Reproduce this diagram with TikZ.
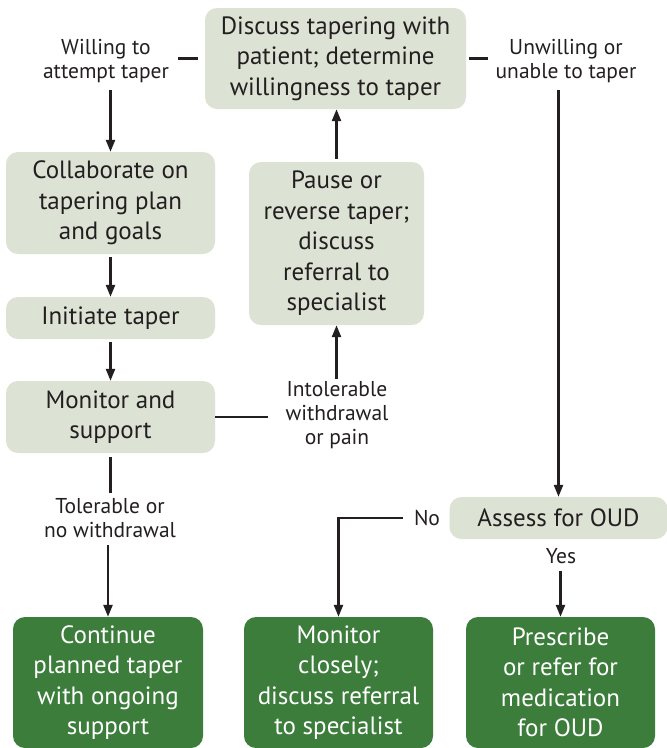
\documentclass[tikz,border=0pt]{standalone}
\usepackage{fontspec}
\setmainfont{PT Sans}
\usetikzlibrary{arrows.meta}
\definecolor{lightg}{RGB}{220,226,212}
\definecolor{darkg}{RGB}{60,125,60}
\definecolor{ink}{RGB}{35,31,32}
\begin{document}
\begin{tikzpicture}[x=1pt,y=-1pt,
  boxtxt/.style={font=\fontsize{25}{30.5}\selectfont, align=center, inner sep=0pt, rounded corners=12pt},
  lbox/.style={boxtxt, fill=lightg, text=ink},
  dbox/.style={boxtxt, fill=darkg, text=white},
  lbl/.style={font=\fontsize{21.5}{24}\selectfont, align=center, inner sep=2pt, text=ink},
  conn/.style={draw=ink, line width=2.4pt},
  arr/.style={conn, -{Triangle[length=12pt,width=9pt]}}]
\useasboundingbox (0,0) rectangle (667,748);
\fill[white] (0,0) rectangle (667,748);

% boxes
\node[lbox, minimum width=261pt, minimum height=101pt] (discuss) at (335.5,58.5) {Discuss tapering with\\patient; determine\\willingness to taper};
\node[lbox, minimum width=209pt, minimum height=102pt] (collab) at (110.5,203) {Collaborate on\\tapering plan\\and goals};
\node[lbox, minimum width=209pt, minimum height=42pt] (initiate) at (110.5,318) {Initiate taper};
\node[lbox, minimum width=209pt, minimum height=72pt] (monitor) at (110.5,417) {Monitor and\\support};
\node[lbox, minimum width=175pt, minimum height=163pt] (pause) at (336.5,243.5) {Pause or\\reverse taper;\\discuss\\referral to\\specialist};
\node[lbox, minimum width=218pt, minimum height=42pt] (assess) at (558.5,518) {Assess for OUD};
\node[dbox, minimum width=190pt, minimum height=131pt] (cont) at (108,682.5) {Continue\\planned taper\\with ongoing\\support};
\node[dbox, minimum width=189pt, minimum height=131pt] (monclose) at (338.5,682.5) {Monitor\\closely;\\discuss referral\\to specialist};
\node[dbox, minimum width=189pt, minimum height=131pt] (presc) at (560.5,682.5) {Prescribe\\or refer for\\medication\\for OUD};

% labels
\node[lbl] (willing) at (106,61) {Willing to\\attempt taper};
\node[lbl] (unwilling) at (566,61) {Unwilling or\\unable to taper};
\node[lbl] (intol) at (337,415) {Intolerable\\withdrawal\\or pain};
\node[lbl] (toler) at (110,518) {Tolerable or\\no withdrawal};
\node[lbl] (no) at (427,518) {No};
\node[lbl] (yes) at (561,556) {Yes};

% connectors
\draw[conn, shorten <=7pt] (discuss.west) -- ([xshift=-27pt]discuss.west);
\draw[conn, shorten <=3pt] (discuss.east) -- ([xshift=22pt]discuss.east);
\draw[arr, shorten <=5pt] (collab.north |- willing.south) -- (collab.north);
\draw[arr, shorten <=5pt] (assess.north |- unwilling.south) -- (assess.north);
\draw[arr, shorten <=3pt] (pause.north) -- (pause.north |- discuss.south);
\draw[arr, shorten <=3pt] (collab.south) -- (initiate.north);
\draw[arr, shorten <=3pt] (initiate.south) -- (monitor.north);
\draw[conn] (monitor.east) -- ([xshift=53pt]monitor.east);
\draw[arr] (intol.north -| pause.south) -- (pause.south);
\draw[conn, shorten <=4pt, shorten >=3pt] (monitor.south) -- (monitor.south |- toler.north);
\draw[arr, shorten <=5pt] (cont.north |- toler.south) -- (cont.north);
\draw[arr, shorten <=9pt] (no.west) -| (monclose.north);
\draw[arr, shorten <=5pt] (presc.north |- yes.south) -- (presc.north);
\end{tikzpicture}
\end{document}
